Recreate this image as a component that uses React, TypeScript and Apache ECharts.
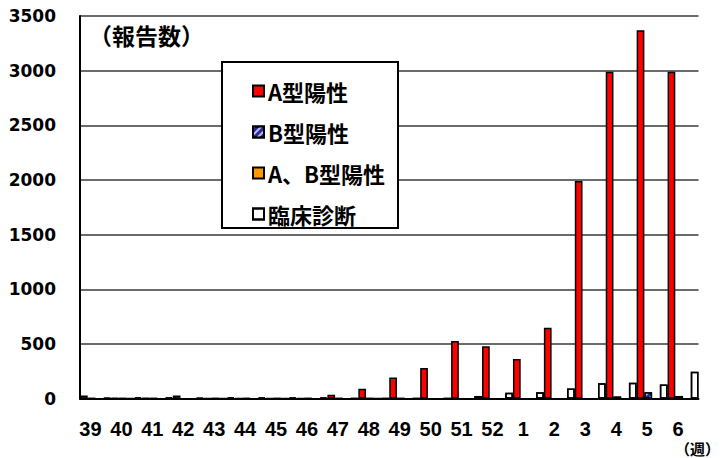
import React, { useEffect, useRef } from "react";
import * as echarts from "echarts";

const weeks = ["39","40","41","42","43","44","45","46","47","48","49","50","51","52","1","2","3","4","5","6"];
const typeA = [30, 6, 6, 30, 4, 4, 4, 4, 35, 90, 195, 280, 527, 480, 364, 649, 1990, 2990, 3370, 2990];
const typeB = [2, 2, 2, 0, 2, 2, 2, 2, 2, 2, 2, 0, 0, 0, 0, 0, 0, 20, 60, 25];
const typeAB = [0, 2, 0, 0, 2, 0, 2, 0, 0, 2, 0, 0, 0, 0, 0, 0, 0, 0, 0, 0];
const clinical = [10, 12, 12, 10, 12, 12, 12, 12, 5, 3, 3, 3, 25, 55, 60, 94, 142, 146, 130, 247];
const seriesNames = ["A型陽性", "B型陽性", "A、B型陽性", "臨床診断"];
const yTicks = [0, 500, 1000, 1500, 2000, 2500, 3000, 3500];

const FONT = "'DejaVu Sans', 'Noto Sans CJK JP', sans-serif";
const CJK = "'Noto Sans CJK JP', 'DejaVu Sans', sans-serif";

export default function App() {
  const ref = useRef<HTMLDivElement>(null);
  useEffect(() => {
    if (!ref.current) return;
    const chart = echarts.init(ref.current, null, { renderer: "svg" });
    const border = { borderColor: "#000", borderWidth: 1.5 };
    chart.setOption({
      animation: false,
      backgroundColor: "#fff",
      grid: { left: 80, right: 25.5, top: 16, bottom: 59.3, containLabel: false },
      xAxis: {
        type: "category",
        data: weeks,
        axisTick: { show: false },
        axisLine: { lineStyle: { color: "#000", width: 2 } },
        axisLabel: {
          interval: 0,
          margin: 20,
          padding: [0, 10, 0, 0],
          color: "#000",
          fontFamily: "'Liberation Sans', Arial, sans-serif",
          fontWeight: "bold",
          fontSize: 20,
          lineHeight: 20,
        },
      },
      yAxis: {
        type: "value",
        min: yTicks[0],
        max: yTicks[yTicks.length - 1],
        interval: 500,
        axisLine: { show: true, lineStyle: { color: "#000", width: 2 } },
        axisTick: { show: false },
        splitLine: { lineStyle: { color: "#3a3a3a", width: 1.5 } },
        axisLabel: {
          margin: 24,
          color: "#000",
          fontFamily: FONT,
          fontWeight: "bold",
          fontSize: 17,
          formatter: (v: number) => String(v),
        },
      },
      legend: {
        orient: "vertical",
        left: 252,
        top: 80,
        z: 10,
        padding: 0,
        itemGap: 19,
        itemWidth: 11,
        itemHeight: 11,
        icon: "rect",
        data: seriesNames,
        textStyle: {
          fontFamily: CJK,
          fontWeight: "bold",
          fontSize: 22,
          lineHeight: 21,
          color: "#000",
          padding: [0, 0, 0, -1],
        },
      },
      graphic: [
        {
          type: "rect",
          z: 5,
          shape: { x: 222, y: 62, width: 176, height: 166 },
          style: { fill: "#fff", stroke: "#000", lineWidth: 2 },
        },
        {
          type: "text",
          z: 5,
          left: 89,
          top: 23,
          style: {
            text: "（報告数）",
            fontFamily: CJK,
            fontWeight: "bold",
            fontSize: 23,
            fill: "#000",
          },
        },
        {
          type: "text",
          z: 5,
          left: 675,
          top: 441,
          style: {
            text: "（週）",
            fontFamily: CJK,
            fontWeight: "bold",
            fontSize: 15,
            lineHeight: 15,
            fill: "#000",
          },
        },
      ],
      series: [
        {
          name: seriesNames[0],
          type: "bar",
          data: typeA,
          barGap: "0%",
          barCategoryGap: "0%",
          itemStyle: { color: "#ff0000", ...border },
        },
        {
          name: seriesNames[1],
          type: "bar",
          data: typeB,
          itemStyle: {
            color: "#2a2a9c",
            ...border,
            decal: {
              symbol: "rect",
              color: "rgba(255,255,255,0.7)",
              dashArrayX: [1, 0],
              dashArrayY: [2, 3],
              rotation: -Math.PI / 4,
            },
          },
        },
        {
          name: seriesNames[2],
          type: "bar",
          data: typeAB,
          itemStyle: { color: "#ff9900", ...border },
        },
        {
          name: seriesNames[3],
          type: "bar",
          data: clinical,
          itemStyle: {
            color: "#ffffff",
            ...border,
            decal: {
              symbol: "rect",
              symbolSize: 0.3,
              color: "#33ee33",
              dashArrayX: [[1, 7]],
              dashArrayY: [2, 8],
            },
          },
        },
      ],
    });
    return () => chart.dispose();
  }, []);
  return (
    <div
      ref={ref}
      style={{ position: "fixed", left: 0, top: 0, width: 724, height: 458 }}
    />
  );
}
